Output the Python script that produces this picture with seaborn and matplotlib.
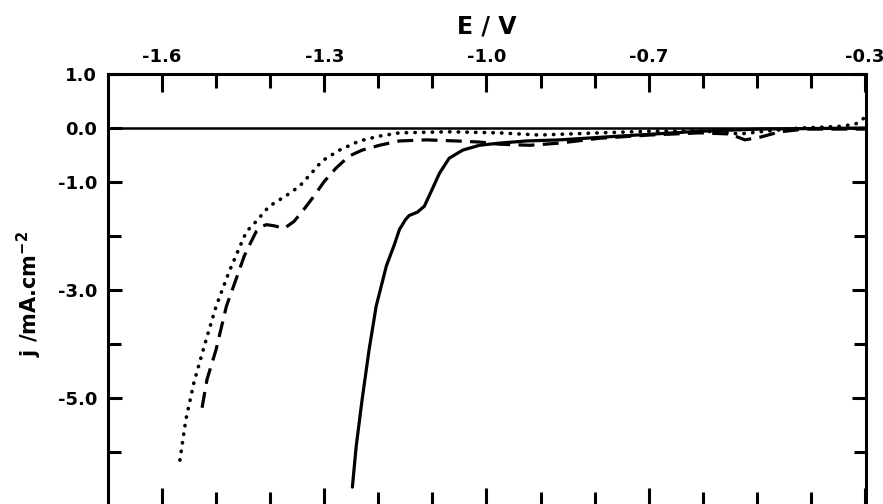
import matplotlib
matplotlib.use("Agg")
import matplotlib.pyplot as plt
import seaborn as sns
import pandas as pd

# ---- data ----
solid_E = [-1.248, -1.241, -1.230, -1.217, -1.204, -1.185, -1.170, -1.161, -1.150, -1.143, -1.128,
           -1.115, -1.102, -1.087, -1.069, -1.044, -1.013, -0.976, -0.926, -0.865, -0.754,
           -0.606, -0.494, -0.300]
solid_j = [-6.65, -5.90, -5.03, -4.10, -3.30, -2.55, -2.15, -1.88, -1.70, -1.62, -1.56,
           -1.45, -1.17, -0.84, -0.56, -0.41, -0.32, -0.28, -0.24, -0.22, -0.15,
           -0.06, -0.02, 0.0]

dashed_E = [-1.526, -1.517, -1.500, -1.481, -1.461, -1.448, -1.435, -1.426, -1.417, -1.407, -1.393,
            -1.374, -1.356, -1.341, -1.322, -1.300, -1.278, -1.254, -1.230, -1.198, -1.161,
            -1.111, -1.056, -1.013, -0.976, -0.920, -0.865, -0.791, -0.698, -0.606, -0.550,
            -0.522, -0.494, -0.457, -0.411, -0.300]
dashed_j = [-5.18, -4.66, -4.10, -3.30, -2.74, -2.37, -2.10, -1.92, -1.83, -1.79, -1.81,
            -1.86, -1.73, -1.55, -1.30, -0.99, -0.74, -0.52, -0.41, -0.32, -0.24,
            -0.22, -0.24, -0.26, -0.30, -0.32, -0.28, -0.19, -0.13, -0.09, -0.11,
            -0.22, -0.17, -0.07, -0.02, -0.02]

dotted_E = [-1.567, -1.556, -1.541, -1.522, -1.500, -1.476, -1.452, -1.444, -1.426, -1.402,
            -1.370, -1.346, -1.324, -1.304, -1.272, -1.235, -1.198, -1.161, -1.069, -0.976,
            -0.902, -0.791, -0.698, -0.606, -0.531, -0.494, -0.420, -0.346, -0.318, -0.302]
dotted_j = [-6.15, -5.40, -4.71, -4.04, -3.30, -2.66, -2.10, -1.92, -1.73, -1.45,
            -1.25, -1.08, -0.84, -0.61, -0.41, -0.24, -0.15, -0.09, -0.07, -0.09,
            -0.13, -0.09, -0.06, -0.05, -0.11, -0.07, 0.0, 0.03, 0.07, 0.18]

x_major = [-1.6, -1.3, -1.0, -0.7, -0.3]
x_major_labels = ["-1.6", "-1.3", "-1.0", "-0.7", "-0.3"]
x_minor = [-1.5, -1.4, -1.2, -1.1, -0.9, -0.8, -0.6, -0.5, -0.4]
y_major = [1.0, 0.0, -1.0, -3.0, -5.0]
y_major_labels = ["1.0", "0.0", "-1.0", "-3.0", "-5.0"]
y_minor = [-2.0, -4.0, -6.0]

sns.set_theme(style="white")
plt.rcParams["font.family"] = ["DejaVu Sans"]
plt.rcParams["font.weight"] = "bold"
plt.rcParams["text.color"] = "black"
plt.rcParams["axes.labelcolor"] = "black"
plt.rcParams["xtick.color"] = "black"
plt.rcParams["ytick.color"] = "black"

fig = plt.figure(figsize=(8.83, 5.04), dpi=100)
ax = fig.add_axes([108 / 883, -0.004, (866 - 108) / 883, 1 - 74 / 504 + 0.004])

ax.axhline(0.0, color="black", lw=1.8, zorder=1)

df_s = pd.DataFrame({"E": solid_E, "j": solid_j})
df_d = pd.DataFrame({"E": dashed_E, "j": dashed_j})
df_o = pd.DataFrame({"E": dotted_E, "j": dotted_j})

sns.lineplot(data=df_s, x="E", y="j", sort=False, estimator=None, ax=ax,
             color="black", lw=2.3)
sns.lineplot(data=df_d, x="E", y="j", sort=False, estimator=None, ax=ax,
             color="black", lw=2.3)
ax.lines[-1].set_dashes([5.0, 2.6])
sns.lineplot(data=df_o, x="E", y="j", sort=False, estimator=None, ax=ax,
             color="black", lw=2.6)
ax.lines[-1].set_dashes([0.1, 2.3])
ax.lines[-1].set_dash_capstyle("round")

ax.set_xlim(-1.70, -0.298)
ax.set_ylim(-7.0, 1.0)

for side in ["top", "left", "right"]:
    ax.spines[side].set_visible(True)
    ax.spines[side].set_linewidth(2.2)
    ax.spines[side].set_color("black")
ax.spines["bottom"].set_visible(False)

ax.set_xticks(x_major)
ax.set_xticklabels(x_major_labels)
ax.set_xticks(x_minor, minor=True)
ax.set_yticks(y_major)
ax.set_yticklabels(y_major_labels)
ax.set_yticks(y_minor, minor=True)

ax.tick_params(axis="x", which="both", direction="in", top=True, bottom=True,
               labeltop=True, labelbottom=False, color="black", labelcolor="black",
               width=2.2, labelsize=13, pad=6)
ax.tick_params(axis="x", which="major", length=13)
ax.tick_params(axis="x", which="minor", length=10)
ax.tick_params(axis="y", which="both", direction="in", left=True, right=True,
               labelleft=True, labelright=False, color="black", labelcolor="black",
               width=2.2, labelsize=13, pad=8)
ax.tick_params(axis="y", which="major", length=10)
ax.tick_params(axis="y", which="minor", length=9)

ax.xaxis.set_label_position("top")
ax.set_xlabel("E / V", fontsize=17, fontweight="bold", labelpad=10, color="black")
ax.set_ylabel(r"j /mA.cm$^{\mathbf{-2}}$", fontsize=15, fontweight="bold",
              labelpad=8, color="black")
ax.yaxis.set_label_coords(-0.085, 0.49)

fig.savefig("out.png", dpi=100)
